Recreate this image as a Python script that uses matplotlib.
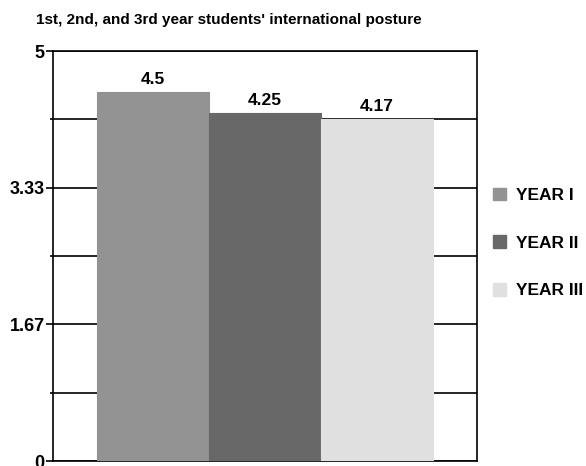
import matplotlib
matplotlib.use("Agg")
import matplotlib.pyplot as plt
from matplotlib.patches import Patch

plt.rcParams['font.family'] = ['Liberation Sans', 'DejaVu Sans']

# Data
groups = ["YEAR I", "YEAR II", "YEAR III"]
scores = [4.5, 4.25, 4.17]
colors = ["#939393", "#686868", "#e0e0e0"]
major_ticks = [0, 5 / 3, 10 / 3, 5]
major_labels = ["0", "1.67", "3.33", "5"]
minor_ticks = [5 / 6, 15 / 6, 25 / 6]
title = "1st, 2nd, and 3rd year students' international posture"

fig = plt.figure(figsize=(5.86, 4.66), dpi=100)
ax = fig.add_axes([53 / 586, 5 / 466, 424 / 586, 410 / 466])

x = list(range(len(groups)))
bars = ax.bar(x, scores, width=1.0, color=colors, edgecolor=colors,
              linewidth=0.8, zorder=3)

for xi, v in zip(x, scores):
    ax.text(xi, v + 0.06, f"{v:g}", ha="center", va="bottom",
            fontsize=12.5, fontweight="bold")

ax.set_xlim(-0.5 - 0.393, 2.5 + 0.393)
ax.set_ylim(0, 5)
ax.set_xticks([])
ax.set_yticks(major_ticks)
ax.set_yticklabels(major_labels, fontsize=13, fontweight="bold")
ax.set_yticks(minor_ticks, minor=True)
ax.tick_params(axis="y", which="major", length=5, width=1.2, pad=1)
ax.tick_params(axis="y", which="minor", length=2, width=1.2)
ax.grid(axis="y", which="both", color="black", linewidth=1.2, zorder=0)
ax.set_axisbelow(True)
for s in ax.spines.values():
    s.set_linewidth(1.2)
    s.set_color("black")

fig.text(229 / 586, 1 - 20 / 466, title, ha="center", va="center",
         fontsize=11, fontweight="bold")

handles = [Patch(facecolor=c, edgecolor=c) for c in colors]
fig.legend(handles, groups, loc="center left",
           bbox_to_anchor=(486 / 586, 1 - 243 / 466), frameon=False,
           borderaxespad=0, prop={"size": 12.5, "weight": "bold"},
           handlelength=0.75, handleheight=0.75, handletextpad=0.55,
           labelspacing=1.85)

fig.savefig("out.png", dpi=100)
